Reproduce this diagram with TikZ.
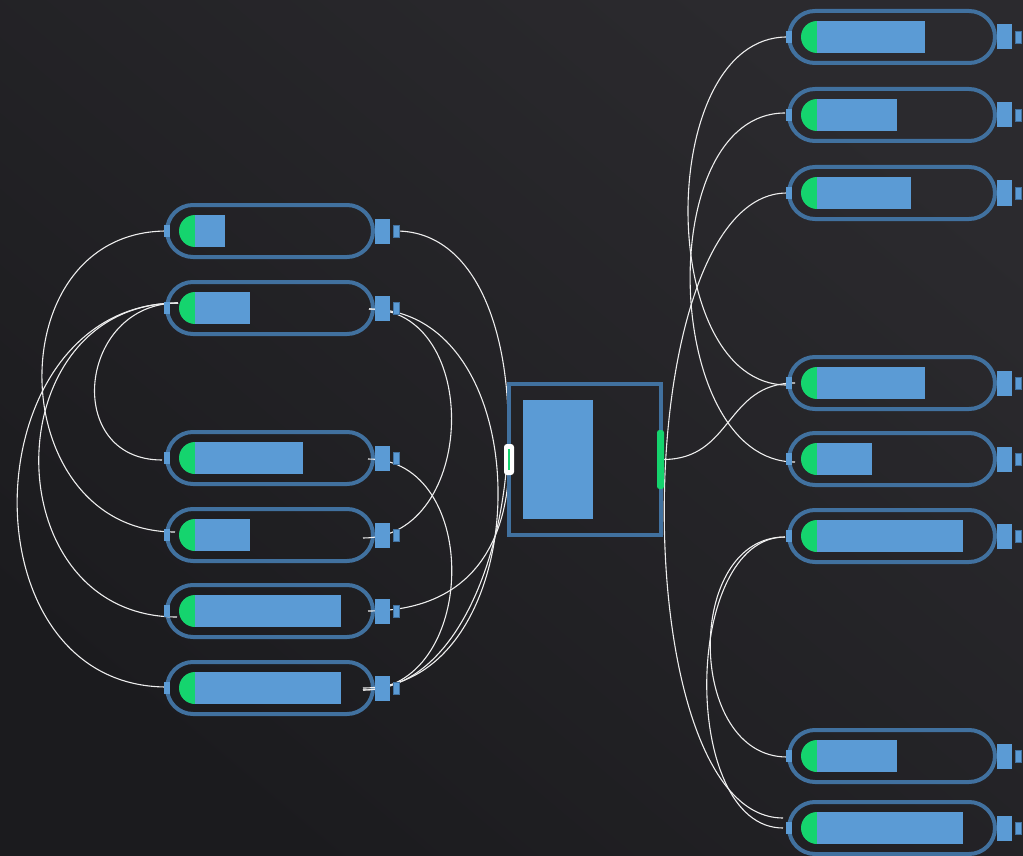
\documentclass[tikz,border=0pt]{standalone}
\usetikzlibrary{shapes.misc,calc}
\definecolor{bgdark}{HTML}{1B1B1E}
\definecolor{bglight}{HTML}{2B2A2E}
\definecolor{rim}{HTML}{41719F}
\definecolor{fillblue}{HTML}{5B9BD5}
\definecolor{okgreen}{HTML}{15D46E}
\definecolor{wirecol}{HTML}{EEEEEE}
\pgfdeclarelayer{pills}
\pgfdeclarelayer{wires}
\pgfsetlayers{pills,wires,main}
\tikzset{
  pill/.style={rounded rectangle, draw=rim, line width=4pt, minimum width=206pt, minimum height=52pt, inner sep=0pt, outer sep=0pt},
  fillbar/.style={fill=fillblue, anchor=west, minimum height=32pt, inner sep=0pt, outer sep=0pt},
  inport/.style={fill=fillblue, minimum width=6pt, minimum height=12pt, inner sep=0pt, outer sep=0pt},
  bigport/.style={fill=fillblue, minimum width=15pt, minimum height=25pt, inner sep=0pt, outer sep=0pt},
  smallport/.style={fill=fillblue, draw=rim, line width=0.6pt, minimum width=6pt, minimum height=12pt, inner sep=0pt, outer sep=0pt},
  wire/.style={draw=wirecol, line width=1.1pt},
  centerbox/.style={draw=rim, line width=4pt, minimum width=152pt, minimum height=151pt, inner sep=0pt, outer sep=0pt},
  cinport/.style={fill=white, rounded corners=3pt, minimum width=10pt, minimum height=31pt, inner sep=0pt, outer sep=0pt},
  coutport/.style={fill=okgreen, rounded corners=2.5pt, minimum width=7pt, minimum height=59pt, inner sep=0pt, outer sep=0pt},
}
\newcommand\mkpill[4]{%
  \begin{pgfonlayer}{pills}\node[pill] (#1) at (#2,#3) {};\end{pgfonlayer}%
  \pgfmathsetmacro\barw{#4-#2+75}%
  \fill[okgreen] ([xshift=28pt]#1.west) ++(0,16) arc (90:270:16) -- cycle;
  \node[fillbar, minimum width=\barw pt] (#1bar) at ([xshift=28pt]#1.west) {};
  \node[inport] (#1in) at (#1.west) {};
  \node[bigport, anchor=west] (#1big) at ([xshift=2pt]#1.east) {};
  \node[smallport] (#1out) at ([xshift=23pt]#1.east) {};
}
\begin{document}
\begin{tikzpicture}[x=1pt,y=-1pt]
\useasboundingbox (0,0) rectangle (1023,856);
\begin{pgfonlayer}{pills}
\shade[top color=bglight, bottom color=bgdark, shading angle=-40] (0,0) rectangle (1023,856);
\end{pgfonlayer}
% left column
\mkpill{L1}{270}{231}{225}
\mkpill{L2}{270}{308}{250}
\mkpill{L3}{270}{458}{303}
\mkpill{L4}{270}{535}{250}
\mkpill{L5}{270}{611}{341}
\mkpill{L6}{270}{688}{341}
% right column
\mkpill{R1}{892}{37}{925}
\mkpill{R2}{892}{115}{897}
\mkpill{R3}{892}{193}{911}
\mkpill{R4}{892}{383}{925}
\mkpill{R5}{892}{459}{872}
\mkpill{R6}{892}{536}{963}
\mkpill{R7}{892}{756}{897}
\mkpill{R8}{892}{828}{963}
% centre
\node[centerbox] (C) at (585,459.5) {};
\node[fill=fillblue, minimum width=70pt, minimum height=119pt, inner sep=0pt] (Cbar) at (558,459.5) {};
\node[cinport] (Cin) at (C.west) {};
\draw[okgreen, line width=2.2pt] ([yshift=10.5pt]Cin.center) -- ([yshift=-10.5pt]Cin.center);
\node[coutport] (Cout) at ([xshift=-0.5pt]C.east) {};
% wires
\begin{pgfonlayer}{wires}
\draw[wire] (L1in.center) .. controls +(-172,0) and +(-172,0) .. ([shift={(8,-3)}]L4in.center);
\draw[wire] ([shift={(11,-5)}]L2in.center) .. controls +(-100,0) and +(-100,0) .. ([shift={(-5,2)}]L3in.center);
\draw[wire] ([shift={(11,-5)}]L2in.center) .. controls +(-185,0) and +(-185,0) .. ([shift={(10,6)}]L5in.center);
\draw[wire] ([shift={(11,-5)}]L2in.center) .. controls +(-207,0) and +(-207,0) .. ([shift={(0,-1)}]L6in.center);
\draw[wire] ([shift={(-27,1)}]L2out.center) .. controls +(114,0) and +(114,0) .. ([shift={(-33,3)}]L4out.center);
\draw[wire] ([shift={(-28,1)}]L3out.center) .. controls +(115,0) and +(115,0) .. ([shift={(-33,2)}]L6out.center);
\draw[wire] (L1out.center) .. controls +(170,0) and +(170,0) .. ([shift={(-33,2)}]L6out.center);
\draw[wire] ([shift={(-27,1)}]L2out.center) .. controls +(176,0) and +(176,0) .. ([shift={(-33,0)}]L6out.center);
\draw[wire] ([shift={(-28,0)}]L5out.center) .. controls +(120,0) and +(0,60) .. (Cin.center);
\draw[wire] ([shift={(2.5,0)}]Cout.center) .. controls +(70,0) and +(-70,0) .. ([shift={(6,0)}]R4in.center);
\draw[wire] ([shift={(-2,0)}]R1in.center) .. controls +(-132,0) and +(-132,0) .. ([shift={(-2,2)}]R4in.center);
\draw[wire] ([shift={(-4,-2)}]R2in.center) .. controls +(-133,0) and +(-133,0) .. ([shift={(6,3)}]R5in.center);
\draw[wire] ([shift={(-2,0)}]R3in.center) .. controls +(-161,0) and +(-161,0) .. ([shift={(-6,-10)}]R8in.center);
\draw[wire] ([shift={(-4,1)}]R6in.center) .. controls +(-101,0) and +(-101,0) .. ([shift={(-2,1)}]R7in.center);
\draw[wire] ([shift={(-4,1)}]R6in.center) .. controls +(-103,0) and +(-103,0) .. ([shift={(-6,0)}]R8in.center);
\end{pgfonlayer}
\end{tikzpicture}
\end{document}
